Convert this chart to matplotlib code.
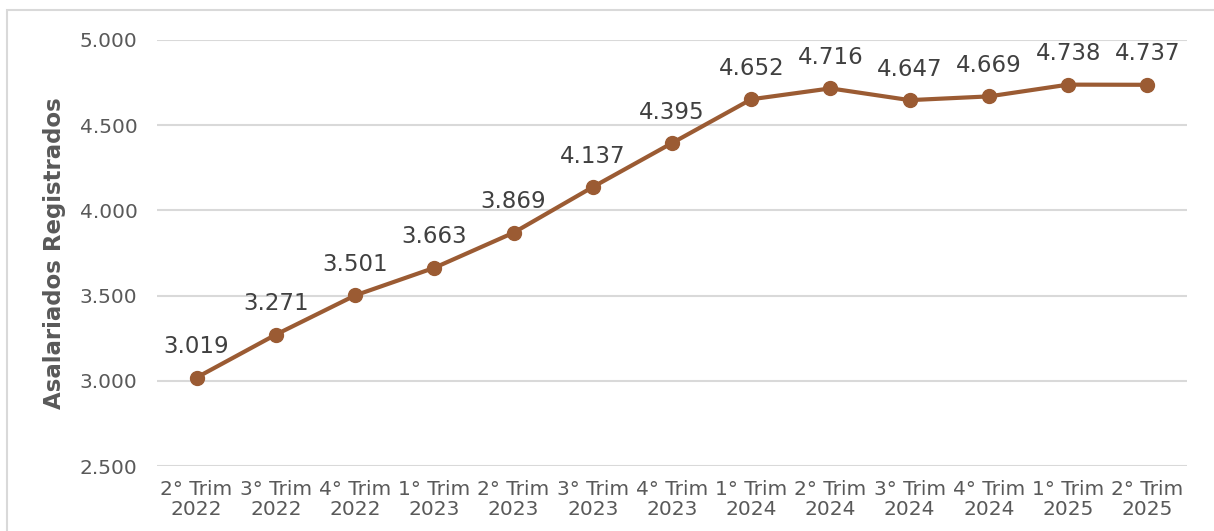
import matplotlib
matplotlib.use("Agg")
import matplotlib.pyplot as plt
from matplotlib.patches import Rectangle

categories = ["2° Trim\n2022", "3° Trim\n2022", "4° Trim\n2022", "1° Trim\n2023",
              "2° Trim\n2023", "3° Trim\n2023", "4° Trim\n2023", "1° Trim\n2024",
              "2° Trim\n2024", "3° Trim\n2024", "4° Trim\n2024", "1° Trim\n2025",
              "2° Trim\n2025"]
values = [3019, 3271, 3501, 3663, 3869, 4137, 4395, 4652, 4716, 4647, 4669, 4738, 4737]
yticks = [2500, 3000, 3500, 4000, 4500, 5000]

plt.rcParams['font.family'] = ['DejaVu Sans']

fig = plt.figure(figsize=(12.14, 5.31), dpi=100)
fig.patches.append(Rectangle((0.0058, -0.1), 1.1, 1.081, transform=fig.transFigure,
                             fill=False, edgecolor='#d9d9d9', linewidth=1.5))
ax = fig.add_axes([0.1293, 0.1224, 0.8485, 0.8023])

x = list(range(len(values)))
color = '#9B5B33'
ax.plot(x, values, color=color, linewidth=3, marker='o', markersize=10, zorder=3)

def fmt(v):
    return f"{v:,}".replace(",", ".")

for xi, v in zip(x, values):
    ax.annotate(fmt(v), (xi, v), xytext=(0, 14), textcoords='offset points',
                ha='center', va='bottom', fontsize=16.5, color='#404040')

ax.set_xlim(-0.5, len(values) - 0.5)
ax.set_ylim(2500, 5000)
ax.set_yticks(yticks)
ax.set_yticklabels([fmt(t) for t in yticks], fontsize=14.5, color='#595959')
ax.set_xticks(x)
ax.set_xticklabels(categories, fontsize=14.5, color='#595959', linespacing=1.05)
ax.tick_params(axis='both', length=0)
ax.tick_params(axis='x', pad=10)
ax.tick_params(axis='y', pad=14)
ax.grid(axis='y', color='#d9d9d9', linewidth=1.5)
ax.set_axisbelow(True)
for s in ax.spines.values():
    s.set_visible(False)
ax.set_ylabel("Asalariados Registrados", fontsize=16.5, fontweight='bold',
              color='#595959', labelpad=10)

fig.savefig("out.png", dpi=100)
